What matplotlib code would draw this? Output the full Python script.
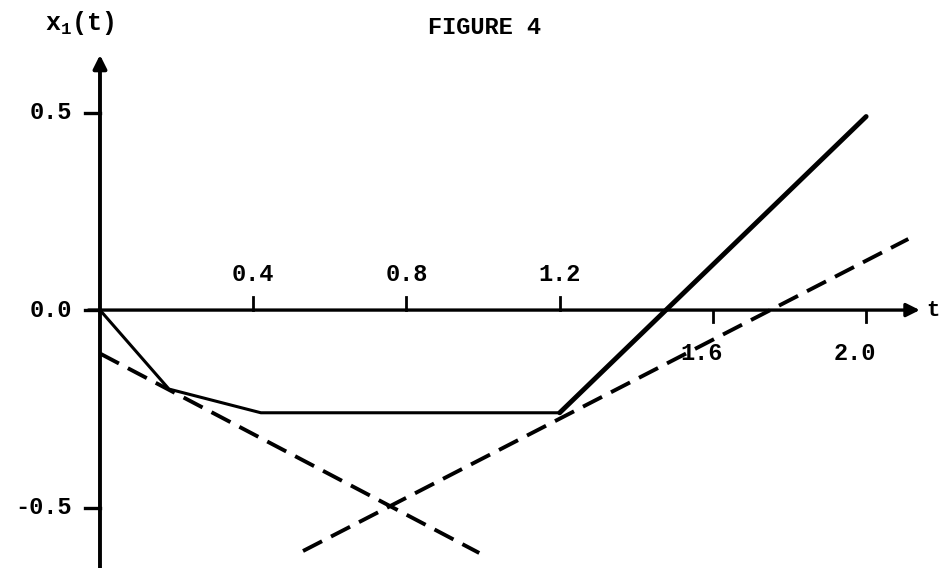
import matplotlib.pyplot as plt

# values
solid_t = [0.0, 0.18, 0.42, 1.20, 2.00]
solid_x = [0.0, -0.20, -0.26, -0.26, 0.49]

dash1_t = [0.0, 0.99]
dash1_x = [-0.11, -0.615]

dash2_t = [0.53, 2.11]
dash2_x = [-0.61, 0.18]

yticks = [0.5, 0.0, -0.5]
ytick_labels = ['0.5', '0.0', '-0.5']
xticks_up = [0.4, 0.8, 1.2]
xticks_down = [1.6, 2.0]

plt.rcParams['font.family'] = ['Liberation Mono', 'DejaVu Sans Mono']
plt.rcParams['font.weight'] = 'bold'
plt.rcParams['mathtext.default'] = 'regular'

fig = plt.figure(figsize=(9.42, 5.68), dpi=100)
ax = fig.add_axes([0, 0, 1, 1])
ax.set_xlim(-0.261, 2.198)
ax.set_ylim(-0.653, 0.785)
ax.axis('off')

# axes with arrows
ax.annotate('', xy=(2.14, 0), xytext=(-0.03, 0),
            arrowprops=dict(arrowstyle='-|>', lw=2.4, color='black',
                            mutation_scale=20, shrinkA=0, shrinkB=0))
ax.annotate('', xy=(0, 0.646), xytext=(0, -0.70),
            arrowprops=dict(arrowstyle='-|>', lw=2.8, color='black',
                            mutation_scale=20, shrinkA=0, shrinkB=0),
            annotation_clip=False)

# y ticks
for y, lab in zip(yticks, ytick_labels):
    ax.plot([-0.04, 0], [y, y], color='black', lw=2.4)
    ax.text(-0.073, y, lab, ha='right', va='center', fontsize=17)

# x ticks above the axis
for t in xticks_up:
    ax.plot([t, t], [0, 0.033], color='black', lw=2)
    ax.text(t, 0.089, f'{t:.1f}', ha='center', va='center', fontsize=17)

# x ticks below the axis
for t in xticks_down:
    ax.plot([t, t], [0, -0.03], color='black', lw=2)
    ax.text(t - 0.03, -0.109, f'{t:.1f}', ha='center', va='center', fontsize=17)

# curves
ax.plot(solid_t[:4], solid_x[:4], color='black', lw=2.2, solid_joinstyle='round')
ax.plot(solid_t[3:], solid_x[3:], color='black', lw=3.5, solid_capstyle='round')
ax.plot(dash1_t, dash1_x, color='black', lw=2.8, linestyle=(0, (5.5, 2.6)))
ax.plot(dash2_t, dash2_x, color='black', lw=2.8, linestyle=(0, (5.5, 2.6)))

# labels
ax.text(-0.052, 0.727, 'x$_1$(t)', ha='center', va='center', fontsize=18)
ax.text(1.005, 0.716, 'FIGURE 4', ha='center', va='center', fontsize=17)
ax.text(2.157, 0.0, 't', ha='left', va='center', fontsize=16)

fig.savefig('out.png', dpi=100)
